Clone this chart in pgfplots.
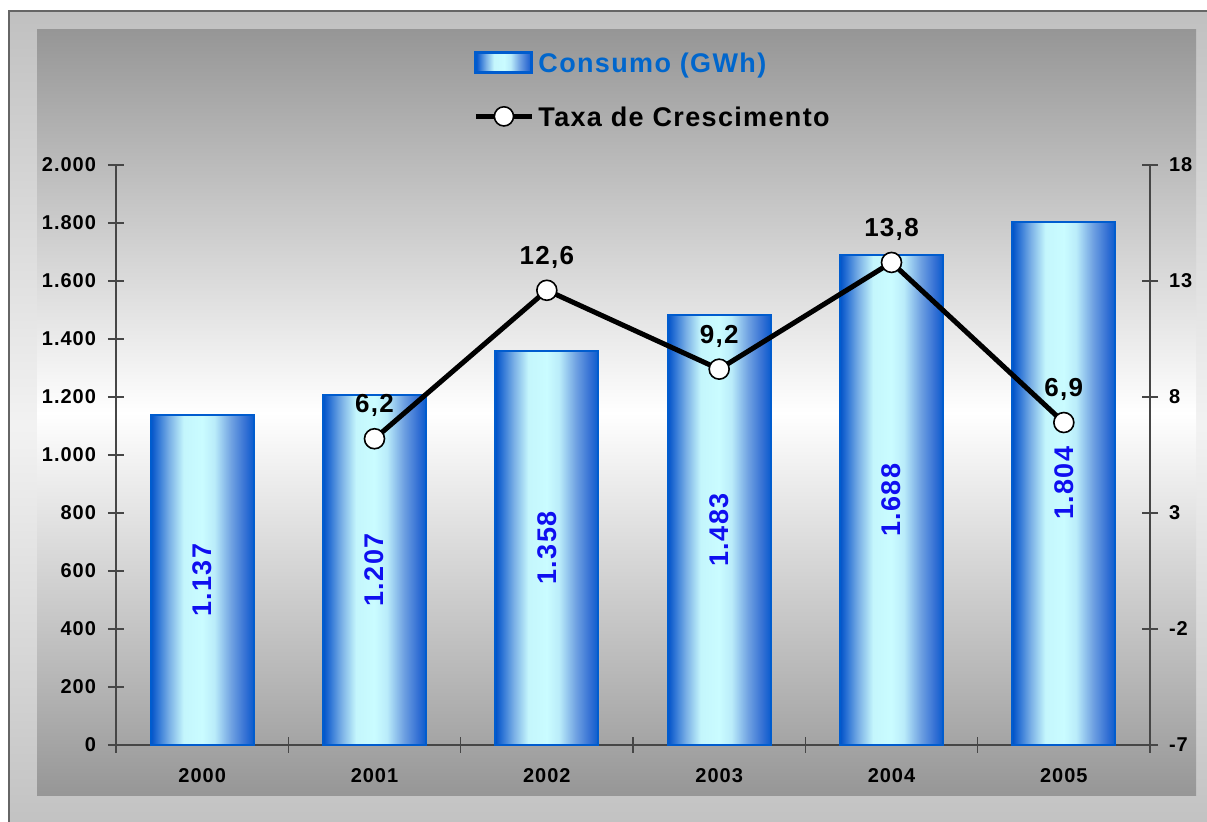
\documentclass[border=0pt]{standalone}
\usepackage{fontspec}
\setmainfont{Liberation Sans}[LetterSpace=5]
\usepackage{pgfplots}
\pgfplotsset{compat=1.18}
\pgfkeys{/pgf/number format/.cd, use comma, assume math mode=true}

\definecolor{edgeblue}{RGB}{0,92,206}
\definecolor{legblue}{RGB}{0,102,204}
\definecolor{lblblue}{RGB}{15,15,240}
\definecolor{bgdark}{RGB}{150,150,150}
\definecolor{frame}{RGB}{192,192,192}
\definecolor{axgray}{RGB}{70,70,70}
\definecolor{bs0}{RGB}{0,82,200}
\definecolor{bs1}{RGB}{40,112,212}
\definecolor{bs2}{RGB}{122,176,230}
\definecolor{bs3}{RGB}{196,246,252}
\definecolor{bs4}{RGB}{202,252,255}
\definecolor{bs5}{RGB}{186,236,250}
\definecolor{bs6}{RGB}{112,162,226}
\definecolor{bs7}{RGB}{52,112,212}
\definecolor{bs8}{RGB}{10,92,206}
\pgfdeclarehorizontalshading{barshade}{100bp}{color(0bp)=(bs0); color(25bp)=(bs0);
  color(28bp)=(bs1); color(34bp)=(bs2); color(41bp)=(bs3); color(50bp)=(bs4);
  color(56bp)=(bs5); color(64bp)=(bs6); color(71bp)=(bs7); color(75bp)=(bs8);
  color(100bp)=(bs8)}

\pgfplotsset{
  consumo/.style={ybar, bar width=51.5pt, bar shift=0pt, draw=edgeblue,
    line width=1pt, shade, shading=barshade,
    nodes near coords,
    visualization depends on=rawy \as \rawy,
    every node near coord/.append style={shift={(axis direction cs:0,-\rawy/2)},
      rotate=90, anchor=center, text=lblblue,
      font=\fontsize{13.5}{15}\selectfont\bfseries}},
}

\begin{document}
\begin{tikzpicture}
\path[use as bounding box] (0,0) rectangle (603.5pt,-411pt);
\begin{scope}
  \clip (0,0) rectangle (603.5pt,-411pt);
  \shade[top color=frame, bottom color=frame, middle color=white!95!black]
    (4.5pt,-5.5pt) rectangle (612pt,-420pt);
  \draw[black!60, line width=0.8pt] (4.5pt,-5.5pt) rectangle (612pt,-420pt);
  \shade[top color=bgdark, bottom color=bgdark, middle color=white]
    (18.5pt,-15pt) rectangle (598pt,-398pt);
\end{scope}

% bars, left axis
\begin{axis}[
  at={(58pt,-372.5pt)}, anchor=south west,
  width=517pt, height=290pt, scale only axis,
  xmin=-0.5, xmax=5.5, ymin=0, ymax=2000,
  axis x line*=bottom, axis y line*=left,
  axis line style={axgray, line width=0.7pt, -},
  xtick={0,...,5}, xticklabels={2000,2001,2002,2003,2004,2005},
  major x tick style={draw=none},
  minor xtick={-0.5,0.5,1.5,2.5,3.5,4.5,5.5},
  ytick={0,200,...,2000}, scaled y ticks=false,
  tick align=center, major tick length=8pt, minor tick length=8pt,
  every tick/.style={axgray, line width=0.7pt},
  tick label style={font=\fontsize{10}{12}\selectfont\bfseries},
  xticklabel style={yshift=-4pt},
  yticklabel style={xshift=-2.5pt},
  clip=false,
]
\addplot[consumo] coordinates {(0,1137)};
\addplot[consumo] coordinates {(1,1207)};
\addplot[consumo] coordinates {(2,1358)};
\addplot[consumo] coordinates {(3,1483)};
\addplot[consumo] coordinates {(4,1688)};
\addplot[consumo] coordinates {(5,1804)};
\end{axis}

% growth rate, right axis
\begin{axis}[
  at={(58pt,-372.5pt)}, anchor=south west,
  width=517pt, height=290pt, scale only axis,
  xmin=-0.5, xmax=5.5, ymin=-7, ymax=18,
  hide x axis, axis y line*=right,
  axis line style={axgray, line width=0.7pt, -},
  ytick={-7,-2,3,8,13,18},
  tick align=center, major tick length=8pt,
  every tick/.style={axgray, line width=0.7pt},
  tick label style={font=\fontsize{10}{12}\selectfont\bfseries},
  yticklabel style={xshift=2pt},
  clip=false,
  legend style={at={(0.3453,1.13)}, anchor=west, draw=none, fill=none,
    inner sep=0pt, row sep=13pt, legend cell align=left,
    font=\fontsize{13.5}{16}\selectfont\bfseries,
    nodes={inner sep=2pt, text depth=0pt}},
]
\addlegendimage{legend image code/.code={
  \shade[shading=barshade, draw=edgeblue, line width=1.5pt]
    (0pt,-5pt) rectangle (28pt,5pt);}}
\addlegendentry{\textcolor{legblue}{Consumo (GWh)}}
\addplot[black, line width=2.5pt, mark=*, mark size=5pt,
  mark options={fill=white, draw=black, line width=0.8pt},
  legend image code/.code={
    \draw[line width=2.5pt] (0pt,0pt) -- (28pt,0pt);
    \draw[fill=white, line width=0.8pt] (14pt,0pt) circle (4.8pt);},
  nodes near coords,
  every node near coord/.append style={anchor=base, yshift=13pt, inner sep=0pt,
    text=black, font=\fontsize{13}{15}\selectfont\bfseries}]
  coordinates {(1,6.2) (2,12.6) (3,9.2) (4,13.8) (5,6.9)};
\addlegendentry{Taxa de Crescimento}
\end{axis}
\end{tikzpicture}
\end{document}
